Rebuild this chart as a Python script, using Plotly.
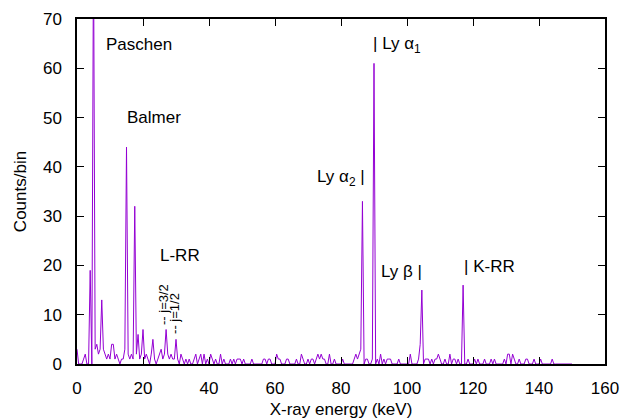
import plotly.graph_objects as go

# ---- data (counts per 0.5 keV bin, starting at 0 keV) ----
BIN_WIDTH_KEV = 0.5
counts_000_020 = [3, 0, 0, 0, 1, 2, 0, 0, 19, 0, 85, 3, 4, 2, 3, 13, 3, 2, 1, 2,
                  1, 4, 4, 1, 2, 1, 0, 1, 1, 3, 44, 2, 1, 2, 1, 32, 2, 6, 1, 2]
counts_020_040 = [7, 1, 2, 1, 0, 2, 5, 1, 0, 1, 2, 3, 1, 2, 7, 2, 1, 2, 1, 1,
                  5, 1, 0, 2, 1, 0, 1, 0, 1, 0, 0, 1, 2, 0, 1, 2, 0, 2, 0, 1]
counts_040_060 = [0, 2, 1, 0, 1, 0, 0, 2, 0, 1, 0, 0, 0, 1, 0, 1, 0, 1, 1, 1,
                  0, 1, 0, 0, 0, 0, 1, 0, 0, 0, 0, 0, 0, 1, 1, 0, 1, 1, 0, 0]
counts_060_080 = [0, 2, 1, 1, 0, 0, 0, 1, 1, 0, 0, 0, 0, 1, 0, 0, 2, 1, 0, 0,
                  1, 0, 1, 1, 0, 1, 2, 1, 2, 1, 1, 0, 0, 2, 0, 0, 1, 0, 0, 0]
counts_080_100 = [0, 1, 0, 0, 0, 0, 0, 0, 1, 2, 1, 2, 3, 33, 0, 1, 1, 0, 0, 1,
                  61, 0, 1, 0, 2, 0, 1, 0, 1, 1, 1, 0, 0, 0, 0, 1, 0, 0, 0, 0]
counts_100_120 = [0, 0, 2, 0, 0, 0, 0, 1, 4, 15, 0, 1, 1, 1, 0, 1, 0, 1, 1, 2,
                  1, 0, 0, 1, 0, 0, 2, 0, 1, 1, 0, 1, 0, 0, 16, 0, 0, 1, 0, 0]
counts_120_140 = [0, 1, 0, 1, 0, 0, 0, 1, 0, 0, 0, 1, 0, 1, 0, 0, 0, 0, 0, 1,
                  0, 2, 2, 0, 2, 1, 0, 0, 1, 0, 0, 0, 1, 1, 0, 0, 0, 1, 0, 0]
counts_140_150 = [0, 1, 0, 0, 0, 0, 0, 0, 1, 0, 0, 0, 0, 0, 0, 0, 0, 0, 0, 0, 0]

counts = (counts_000_020 + counts_020_040 + counts_040_060 + counts_060_080 +
          counts_080_100 + counts_100_120 + counts_120_140 + counts_140_150)
energy = [i * BIN_WIDTH_KEV for i in range(len(counts))]

x_ticks = [0, 20, 40, 60, 80, 100, 120, 140, 160]
y_ticks = [0, 10, 20, 30, 40, 50, 60, 70]

# labels: (text, x keV, y counts, xanchor)
labels = [
    ("Paschen", 8.2, 64.9, "left"),
    ("Balmer", 14.5, 50.0, "left"),
    ("L-RR", 24.5, 22.1, "left"),
    ("| Ly α<sub>1</sub>", 89.1, 64.7, "left"),
    ("Ly α<sub>2</sub> |", 87.8, 37.7, "right"),
    ("Ly β |", 105.3, 18.7, "right"),
    ("| K-RR", 116.7, 19.7, "left"),
]
small_labels = [
    ("-- j=3/2", 26.4, 12.0),
    ("-- j=1/2", 29.6, 10.3),
]

FONT = "Liberation Sans, Arial, sans-serif"
COLOR = "#9400d3"

fig = go.Figure()
fig.add_trace(go.Scatter(x=energy, y=counts, mode="lines",
                         line=dict(color=COLOR, width=1.0),
                         showlegend=False, hoverinfo="skip"))

for text, x, y, xa in labels:
    fig.add_annotation(x=x, y=y, text=text, showarrow=False, xanchor=xa,
                       yanchor="middle", font=dict(family=FONT, size=17, color="black"))
for text, x, y in small_labels:
    fig.add_annotation(x=x, y=y, text=text, showarrow=False, textangle=-90,
                       xanchor="center", yanchor="middle",
                       font=dict(family=FONT, size=13, color="black"))

axis_common = dict(showline=True, linecolor="black", linewidth=1.5, mirror="ticks",
                   ticks="inside", ticklen=7, tickwidth=1, tickcolor="black",
                   showgrid=False, zeroline=False, automargin=False,
                   tickfont=dict(family=FONT, size=17, color="black"))

fig.update_layout(
    width=620, height=419,
    margin=dict(l=77, r=15, t=19, b=55),
    paper_bgcolor="white", plot_bgcolor="white",
    font=dict(family=FONT, size=17, color="black"),
    xaxis=dict(range=[0, 160], tickvals=x_ticks,
               title=dict(text="X-ray energy (keV)", standoff=6,
                          font=dict(family=FONT, size=17)),
               ticklabelstandoff=8, **axis_common),
    yaxis=dict(range=[0, 70], tickvals=y_ticks,
               title=dict(text="Counts/bin", standoff=12,
                          font=dict(family=FONT, size=17)),
               ticklabelstandoff=10, **axis_common),
)

fig.write_html("out.html", config={"displayModeBar": False},
               post_script="document.body.style.margin='0';document.body.style.overflow='hidden';")
